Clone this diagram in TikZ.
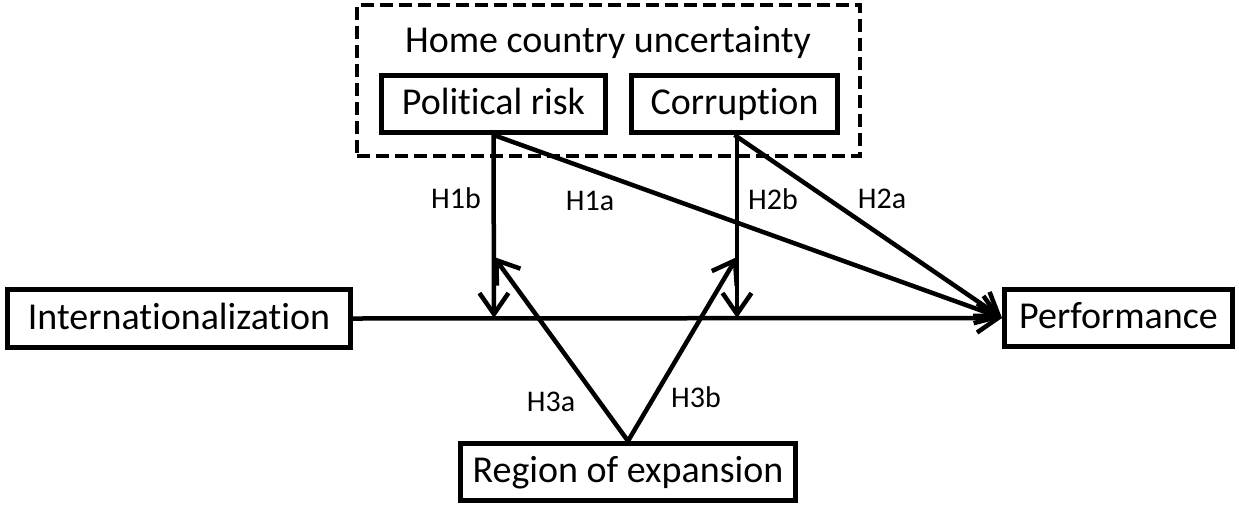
\documentclass[tikz,border=0pt]{standalone}
\usepackage{fontspec}
\setmainfont[Ligatures=NoCommon]{Carlito}
\usetikzlibrary{arrows.meta}
\tikzset{
  box/.style={draw, line width=5pt, inner sep=0pt, text height=30.4pt, text depth=9.1pt, font=\fontsize{38}{45}\selectfont},
  hlabel/.style={inner sep=0pt, font=\fontsize{30}{36}\selectfont},
  conn/.style={line width=4.5pt, -{Straight Barb[length=21pt,width=29pt]}}
}
\begin{document}
\begin{tikzpicture}[x=1pt,y=-1pt]
\useasboundingbox (0,0) rectangle (1239,504);
\node[draw, line width=4.5pt, dash pattern=on 13pt off 6pt, minimum width=503pt, minimum height=151pt] (hcu) at (608.5,80.5) {};
\node[inner sep=0pt, text height=30.4pt, text depth=9.1pt, font=\fontsize{38}{45}\selectfont] (title) at (608,42) {Home country uncertainty};
\node[box, minimum width=224pt, minimum height=57pt] (pol) at (493.5,104) {Political risk};
\node[box, minimum width=206pt, minimum height=57pt] (cor) at (734.5,104) {Corruption};
\node[box, minimum width=343pt, minimum height=58pt] (intl) at (179,318.5) {Internationalization};
\node[box, minimum width=228pt, minimum height=57pt] (perf) at (1118.5,318) {Performance};
\node[box, minimum width=335pt, minimum height=57pt] (reg) at (628,472) {Region of expansion};
\coordinate (m1) at (494,318);
\coordinate (m2) at (737,318);
\coordinate (t1) at (494,257);
\coordinate (t2) at (737,257);
\draw[conn] (intl.east) -- (perf.west);
\draw[conn] (pol.south) -- (m1);
\draw[conn] (cor.south -| m2) -- (m2);
\draw[conn] (pol.south) -- (perf.west);
\draw[conn] (cor.south) -- (perf.west);
\draw[conn] (reg.north) -- (t1);
\draw[conn] (reg.north) -- (t2);
\node[hlabel] (h1b) at (456,198) {H1b};
\node[hlabel] (h1a) at (590,201) {H1a};
\node[hlabel] (h2b) at (773,199) {H2b};
\node[hlabel] (h2a) at (882,199) {H2a};
\node[hlabel] (h3a) at (551,402) {H3a};
\node[hlabel] (h3b) at (696,397) {H3b};
\end{tikzpicture}
\end{document}
